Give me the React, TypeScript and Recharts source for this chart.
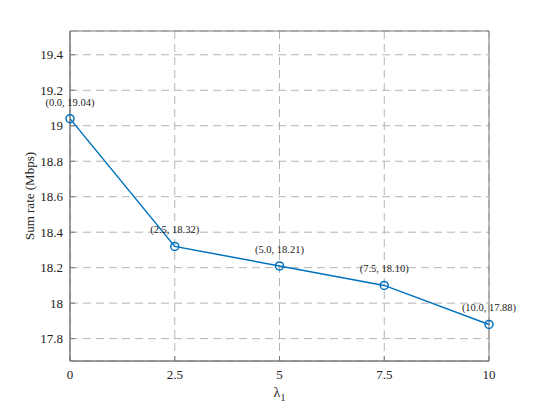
import React from 'react';
import {
  LineChart,
  Line,
  XAxis,
  YAxis,
  CartesianGrid,
  ReferenceArea,
  LabelList,
} from 'recharts';

const lambdas = [0, 2.5, 5, 7.5, 10];
const sumRates = [19.04, 18.32, 18.21, 18.1, 17.88];
const pointLabels = ['(0.0, 19.04)', '(2.5, 18.32)', '(5.0, 18.21)', '(7.5, 18.10)', '(10.0, 17.88)'];
const xTicks = [0, 2.5, 5, 7.5, 10];
const yTicks = [17.8, 18, 18.2, 18.4, 18.6, 18.8, 19, 19.2, 19.4];

const data = lambdas.map((x, i) => ({ x, y: sumRates[i], label: pointLabels[i] }));

const Y_MIN = 17.674;
const Y_MAX = 19.534;
const FONT = "'Liberation Serif', 'Times New Roman', 'DejaVu Serif', serif";
const BLUE = '#0072BD';
const AXIS = '#7a7a7a';
const TICK = 5;

const fmtY = (v: number) => String(parseFloat(v.toFixed(1)));

const PointLabel = (props: any) => {
  const { x, y, value } = props;
  return (
    <text x={x} y={y - 13} textAnchor="middle" fontFamily={FONT} fontSize={10.5} fill="#222">
      {value}
    </text>
  );
};

// bottom ticks: label below, tick mark pointing into the plot
const BottomTick = (props: any) => {
  const { x, y, payload } = props;
  const axisY = y - 3;
  return (
    <g>
      <line x1={x} x2={x} y1={axisY} y2={axisY - TICK} stroke={AXIS} />
      <text x={x} y={y + 15} textAnchor="middle" fontFamily={FONT} fontSize={13} fill="#222">
        {payload.value}
      </text>
    </g>
  );
};

const LeftTick = (props: any) => {
  const { x, y, payload } = props;
  const axisX = x + 7;
  return (
    <g>
      <line x1={axisX} x2={axisX + TICK} y1={y} y2={y} stroke={AXIS} />
      <text x={x} y={y + 4.5} textAnchor="end" fontFamily={FONT} fontSize={13} fill="#222">
        {fmtY(payload.value)}
      </text>
    </g>
  );
};

const TopTick = (props: any) => {
  const { x } = props;
  return <line x1={x} x2={x} y1={31} y2={31 + TICK} stroke={AXIS} />;
};

const RightTick = (props: any) => {
  const { y } = props;
  return <line x1={489} x2={489 - TICK} y1={y} y2={y} stroke={AXIS} />;
};

export default function App() {
  return (
    <div style={{ position: 'absolute', left: 0, top: 0, width: 540, height: 405, background: '#fff' }}>
      <LineChart
        width={540}
        height={405}
        data={data}
        margin={{ top: 31, right: 51, left: 20, bottom: 14 }}
      >
        <CartesianGrid stroke="#b4b4b4" strokeDasharray="8 5" strokeWidth={1} />
        <XAxis
          dataKey="x"
          type="number"
          domain={[0, 10]}
          ticks={xTicks}
          height={30}
          stroke={AXIS}
          tickLine={false}
          tickSize={0}
          tickMargin={3}
          tick={BottomTick}
          label={(p: any) => {
            const vb = p.viewBox;
            const cx = vb.x + vb.width / 2;
            return (
              <text x={cx} y={397} textAnchor="middle" fontFamily={FONT} fontSize={14} fill="#222">
                <tspan>λ</tspan>
                <tspan dy={4} fontSize={10}>1</tspan>
              </text>
            );
          }}
        />
        <XAxis
          xAxisId="top"
          dataKey="x"
          type="number"
          orientation="top"
          domain={[0, 10]}
          ticks={xTicks}
          height={0}
          axisLine={false}
          tickLine={false}
          tick={TopTick}
        />
        <YAxis
          type="number"
          domain={[Y_MIN, Y_MAX]}
          ticks={yTicks}
          width={50}
          stroke={AXIS}
          tickLine={false}
          tickSize={0}
          tickMargin={7}
          tick={LeftTick}
          allowDataOverflow
          label={{
            value: 'Sum rate (Mbps)',
            angle: -90,
            position: 'insideLeft',
            offset: 9,
            style: { textAnchor: 'middle', fontFamily: FONT, fontSize: 13, fill: '#222' },
          }}
        />
        <YAxis
          yAxisId="right"
          orientation="right"
          type="number"
          domain={[Y_MIN, Y_MAX]}
          ticks={yTicks}
          width={0}
          axisLine={false}
          tickLine={false}
          tick={RightTick}
          allowDataOverflow
        />
        <ReferenceArea
          x1={0}
          x2={10}
          y1={Y_MIN}
          y2={Y_MAX}
          fill="none"
          stroke={AXIS}
          strokeWidth={1}
        />
        <Line
          type="linear"
          dataKey="y"
          stroke={BLUE}
          strokeWidth={1.5}
          dot={{ r: 4, fill: 'none', stroke: BLUE, strokeWidth: 1.5 }}
          isAnimationActive={false}
        >
          <LabelList dataKey="label" content={PointLabel} />
        </Line>
      </LineChart>
    </div>
  );
}
